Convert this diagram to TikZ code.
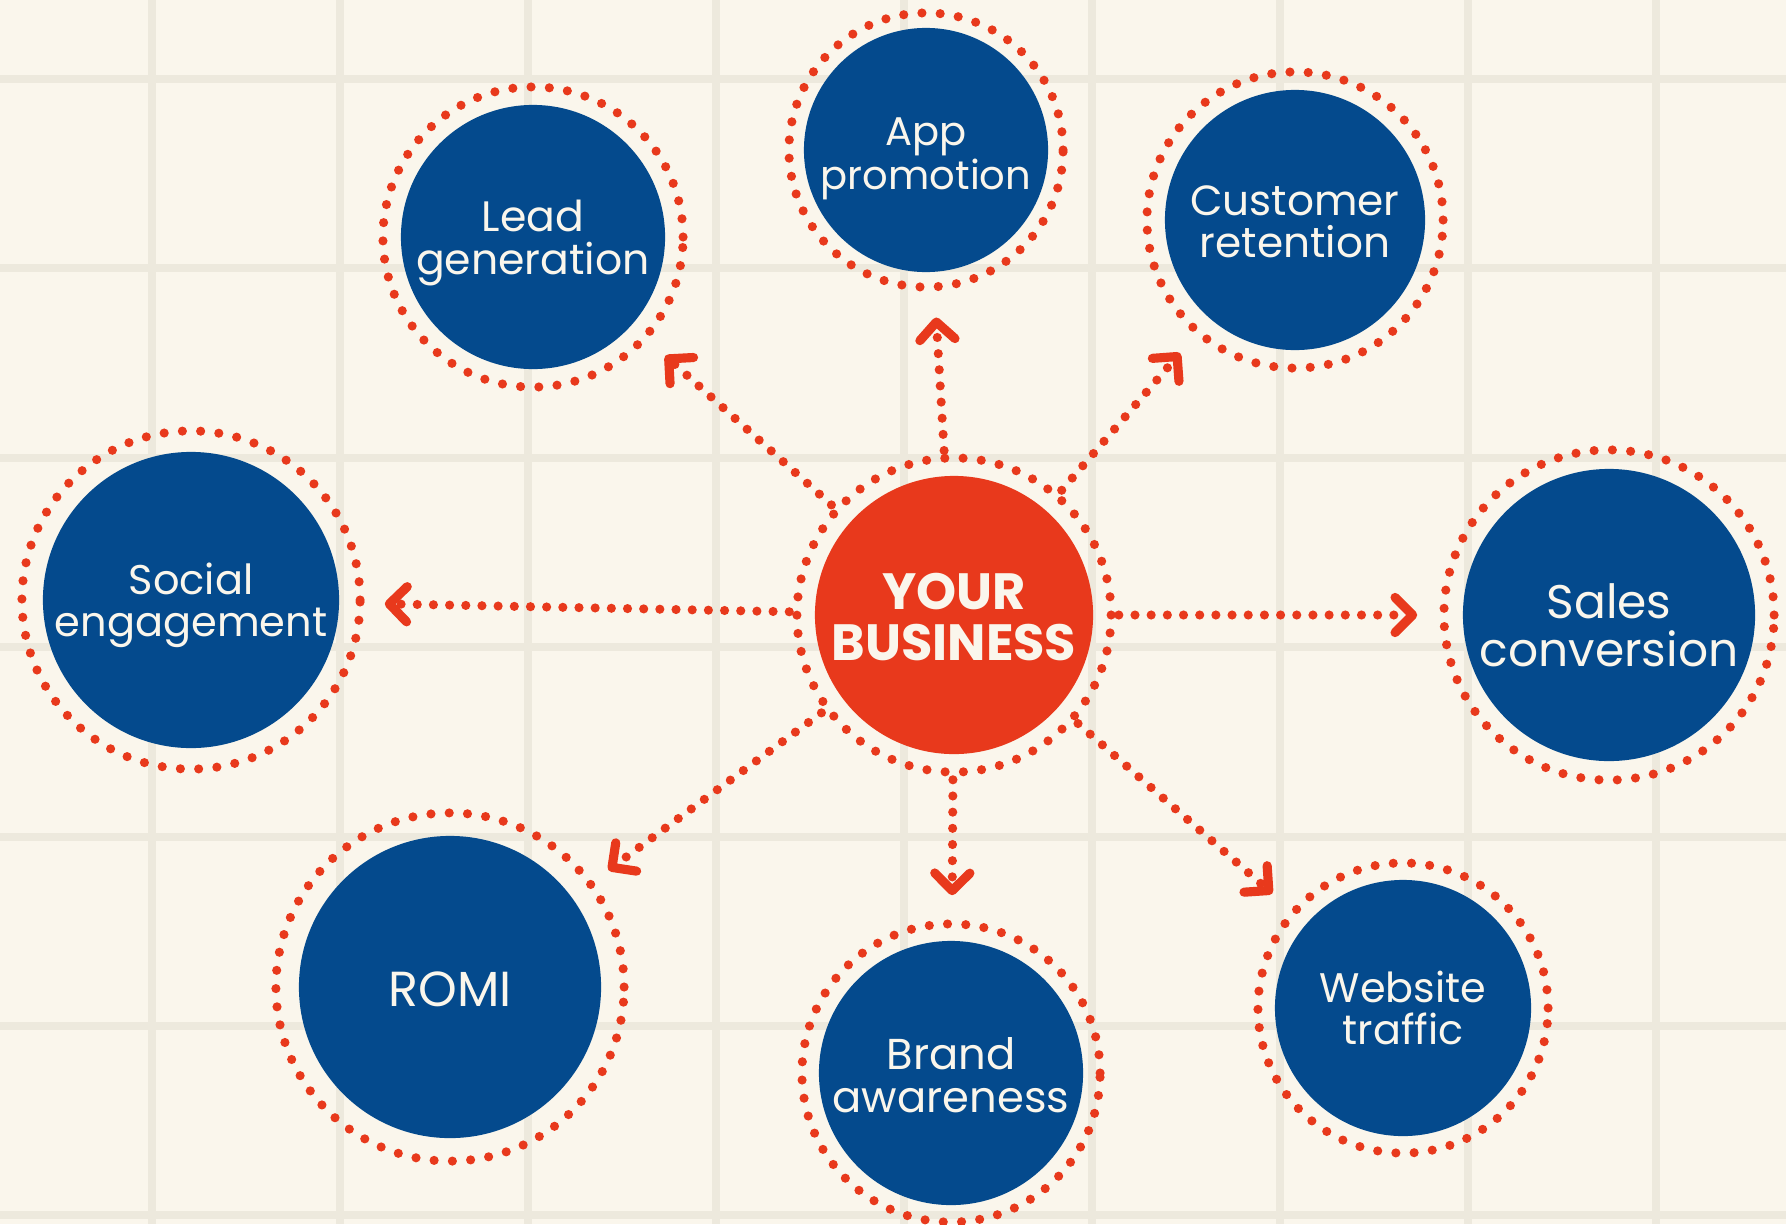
\documentclass[tikz,border=0pt]{standalone}
\usepackage{fontspec}
\setmainfont{Poppins}
\usetikzlibrary{arrows.meta}
\definecolor{bg}{HTML}{FAF6EC}
\definecolor{gridc}{HTML}{EDE9DD}
\definecolor{bblue}{HTML}{044A8D}
\definecolor{bred}{HTML}{E8391C}
\definecolor{ivory}{HTML}{FAF6EC}
\begin{document}
\begin{tikzpicture}[x=0.01cm,y=-0.01cm,
  goal/.style={circle,fill=bblue,inner sep=0pt},
  lbl/.style={text=ivory,align=center,inner sep=0pt},
  fs/.style 2 args={font={\fontsize{#1}{#2}\selectfont}},
  ring/.style={draw=bred,line width=2.6pt,line cap=round,dash pattern=on 0pt off 5.2pt},
  arr/.style={draw=bred,line width=2.6pt,line cap=round,dash pattern=on 0pt off 4.6pt,
    -{Straight Barb[length=5pt,width=10pt,round]},shorten <=0.25cm,shorten >=0.45cm},
  gridline/.style={draw=gridc,line width=2.3pt}]
\useasboundingbox (0,0) rectangle (1786,1224);
\fill[bg] (0,0) rectangle (1786,1224);
\foreach \x in {152,340,528,716,904,1092,1280,1468,1656} \draw[gridline] (\x,0) -- (\x,1224);
\foreach \y in {79,268,458,647,837,1026,1215} \draw[gridline] (0,\y) -- (1786,\y);

% circles
\node[goal,fill=bred,minimum size=2.78cm] (c) at (954,615) {};
\node[goal,minimum size=2.64cm] (lg) at (533,237) {};
\node[goal,minimum size=2.44cm] (ap) at (926,150) {};
\node[goal,minimum size=2.60cm] (cr) at (1295,220) {};
\node[goal,minimum size=2.96cm] (se) at (191,600) {};
\node[goal,minimum size=2.92cm] (sc) at (1609,615) {};
\node[goal,minimum size=3.02cm] (ro) at (450,987) {};
\node[goal,minimum size=2.64cm] (ba) at (951,1073) {};
\node[goal,minimum size=2.56cm] (wt) at (1403,1008) {};

% labels
\node[lbl,font={\fontsize{14.5}{14.5}\selectfont\bfseries}] (ct) at (954,617) {YOUR\\BUSINESS};
\node[lbl,fs={12.1}{12}] (lgt) at (533,243) {Lead\\generation};
\node[lbl,fs={11.4}{10.8}] (apt) at (926,159) {App\\promotion};
\node[lbl,fs={12}{12}] (crt) at (1295,222) {Customer\\retention};
\node[lbl,fs={11.8}{12}] (set) at (191,605) {Social\\engagement};
\node[lbl,fs={13.4}{13.6}] (sct) at (1609,625) {Sales\\conversion};
\node[lbl,fs={14}{14}] (rot) at (450,989) {ROMI};
\node[lbl,fs={12.3}{12.3}] (bat) at (951,1075) {Brand\\awareness};
\node[lbl,fs={11.75}{12}] (wtt) at (1403,1008) {Website\\traffic};

% dotted rings
\draw[ring] (c.center) circle[radius=1.57cm];
\draw[ring] (lg.center) circle[radius=1.50cm];
\draw[ring] (ap.center) circle[radius=1.37cm];
\draw[ring] (cr.center) circle[radius=1.48cm];
\draw[ring] (se.center) circle[radius=1.69cm];
\draw[ring] (sc.center) circle[radius=1.65cm];
\draw[ring] (ro.center) circle[radius=1.74cm];
\draw[ring] (ba.center) circle[radius=1.49cm];
\draw[ring] (wt.center) circle[radius=1.45cm];

% connectors
\draw[arr] (c) -- (lg);
\draw[arr] (c) -- (ap);
\draw[arr] (c) -- (cr);
\draw[arr] (c) -- (se);
\draw[arr] (c) -- (sc);
\draw[arr] (c) -- (ro);
\draw[arr] (c) -- (ba);
\draw[arr] (c) -- (wt);
\end{tikzpicture}
\end{document}
